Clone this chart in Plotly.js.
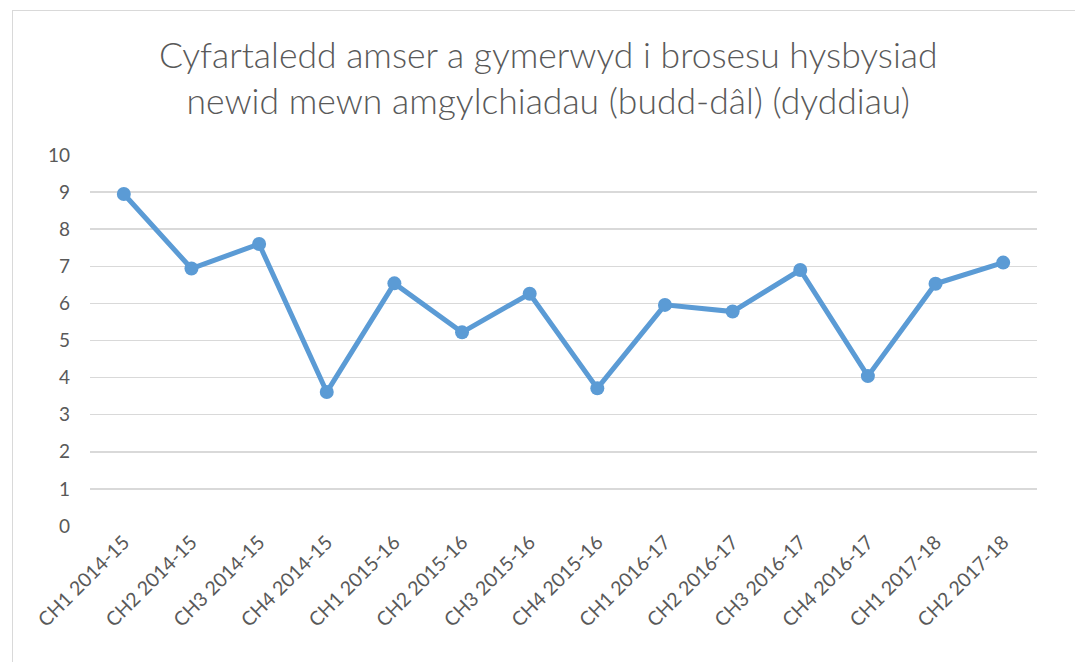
<!DOCTYPE html>
<html>
<head>
<meta charset="utf-8">
<script src="https://cdn.plot.ly/plotly-3.0.1.min.js"></script>
<style>
  html, body { margin: 0; padding: 0; background: #ffffff; }
  #wrap { position: relative; width: 1075px; height: 662px; overflow: hidden; }
  #chart { position: absolute; left: 0; top: 0; width: 1075px; height: 662px; }
  #frame { position: absolute; left: 12px; top: 10px; width: 1100px; height: 700px;
           border-left: 1.5px solid #d9d9d9; border-top: 1.5px solid #d9d9d9;
           pointer-events: none; }
</style>
</head>
<body>
<div id="wrap">
  <div id="chart"></div>
  <div id="frame"></div>
</div>
<script>
const categories = [
  "CH1 2014-15", "CH2 2014-15", "CH3 2014-15", "CH4 2014-15",
  "CH1 2015-16", "CH2 2015-16", "CH3 2015-16", "CH4 2015-16",
  "CH1 2016-17", "CH2 2016-17", "CH3 2016-17", "CH4 2016-17",
  "CH1 2017-18", "CH2 2017-18"
];
const days = [8.95, 6.94, 7.60, 3.61, 6.54, 5.22, 6.26, 3.71, 5.96, 5.78, 6.90, 4.04, 6.53, 7.10];
const yTicks = [0, 1, 2, 3, 4, 5, 6, 7, 8, 9, 10];
const chartTitle = "Cyfartaledd amser a gymerwyd i brosesu hysbysiad<br>newid mewn amgylchiadau (budd-dâl) (dyddiau)";

const font = "Lato, 'Open Sans', sans-serif";

const trace = {
  type: "scatter",
  mode: "lines+markers",
  x: categories,
  y: days,
  line: { color: "#5B9BD5", width: 5 },
  marker: { color: "#5B9BD5", size: 14 },
  hoverinfo: "x+y"
};

const layout = {
  width: 1075,
  height: 662,
  paper_bgcolor: "#ffffff",
  plot_bgcolor: "#ffffff",
  margin: { l: 90, r: 38, t: 155, b: 136 },
  showlegend: false,
  title: {
    text: chartTitle,
    font: { family: font, size: 35.5, color: "#595959", weight: 300 },
    x: 0.51,
    xanchor: "center",
    y: 0.898,
    yanchor: "middle"
  },
  xaxis: {
    type: "category",
    tickangle: -45,
    showgrid: false,
    zeroline: false,
    showline: false,
    ticks: "",
    tickfont: { family: font, size: 19.5, color: "#595959" },
    range: [-0.5, 13.5]
  },
  yaxis: {
    range: [0, 10],
    tickvals: yTicks,
    ticktext: yTicks.map(String),
    showgrid: true,
    gridcolor: "#d9d9d9",
    gridwidth: 1.5,
    zeroline: false,
    showline: false,
    ticks: "",
    ticklabelstandoff: 19,
    tickfont: { family: font, size: 19, color: "#595959" }
  }
};

Plotly.newPlot("chart", [trace], layout, { displayModeBar: false, staticPlot: true });
</script>
</body>
</html>
